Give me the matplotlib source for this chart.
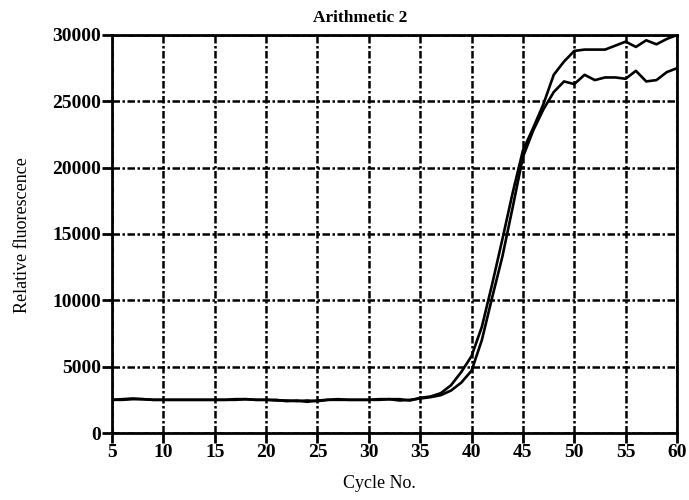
import numpy as np
import matplotlib
matplotlib.use("Agg")
import matplotlib.pyplot as plt

# cycle numbers
cycles = np.arange(5, 61)

# curve rising first, higher plateau
run_a = [
    2500, 2550, 2600, 2550, 2500, 2500, 2500, 2500, 2500, 2500,   # 5-14
    2500, 2500, 2550, 2550, 2500, 2500, 2450, 2450, 2400, 2450,   # 15-24
    2400, 2500, 2500, 2500, 2500, 2500, 2550, 2550, 2550, 2450,   # 25-34
    2650, 2750, 3000, 3600, 4600, 5800, 8000, 11200, 14600, 18100,  # 35-44
    21300, 23000, 24800, 27000, 28000, 28800, 28900, 28900, 28900, 29200,  # 45-54
    29500, 29100, 29600, 29300, 29700, 30000,  # 55-60
]

# curve rising slightly later, lower plateau
run_b = [
    2500, 2500, 2550, 2550, 2500, 2500, 2500, 2500, 2500, 2500,
    2500, 2500, 2500, 2550, 2500, 2500, 2500, 2400, 2450, 2350,
    2450, 2500, 2550, 2500, 2500, 2500, 2500, 2550, 2450, 2500,
    2600, 2700, 2850, 3200, 3800, 4700, 7000, 10200, 13300, 17000,
    20800, 22800, 24400, 25700, 26500, 26300, 27000, 26600, 26800, 26800,
    26700, 27300, 26500, 26600, 27200, 27500,
]

x_ticks = np.arange(5, 61, 5)
y_ticks = np.arange(0, 30001, 5000)

plt.rcParams["font.family"] = ["Liberation Serif", "DejaVu Serif"]

fig = plt.figure(figsize=(6.89, 5.0), dpi=100)
ax = fig.add_axes([0.1626, 0.134, 0.82, 0.796])

ax.plot(cycles, run_a, color="black", lw=1.9)
ax.plot(cycles, run_b, color="black", lw=1.9)

ax.set_xlim(5, 60)
ax.set_ylim(0, 30000)
ax.set_xticks(x_ticks)
ax.set_yticks(y_ticks)
ax.tick_params(direction="out", length=7, width=2, labelsize=14, pad=1)
for lab in ax.get_xticklabels() + ax.get_yticklabels():
    lab.set_fontweight("bold")

ax.grid(True, color="black", lw=1.8, linestyle=(0, (3, 1, 1, 1)))
for s in ax.spines.values():
    s.set_linewidth(2)

# title and axis labels sit a bit off-centre in the original
fig.text(360 / 689, 1 - 18 / 500, "Arithmetic 2", fontsize=12.5,
         fontweight="bold", ha="center", va="center")
fig.text(379 / 689, 1 - 484 / 500, "Cycle No.", fontsize=13,
         ha="center", va="center")
fig.text(23 / 689, 1 - 235 / 500, "Relative fluorescence", fontsize=13,
         rotation=90, ha="center", va="center")

fig.savefig("out.png", dpi=100)
